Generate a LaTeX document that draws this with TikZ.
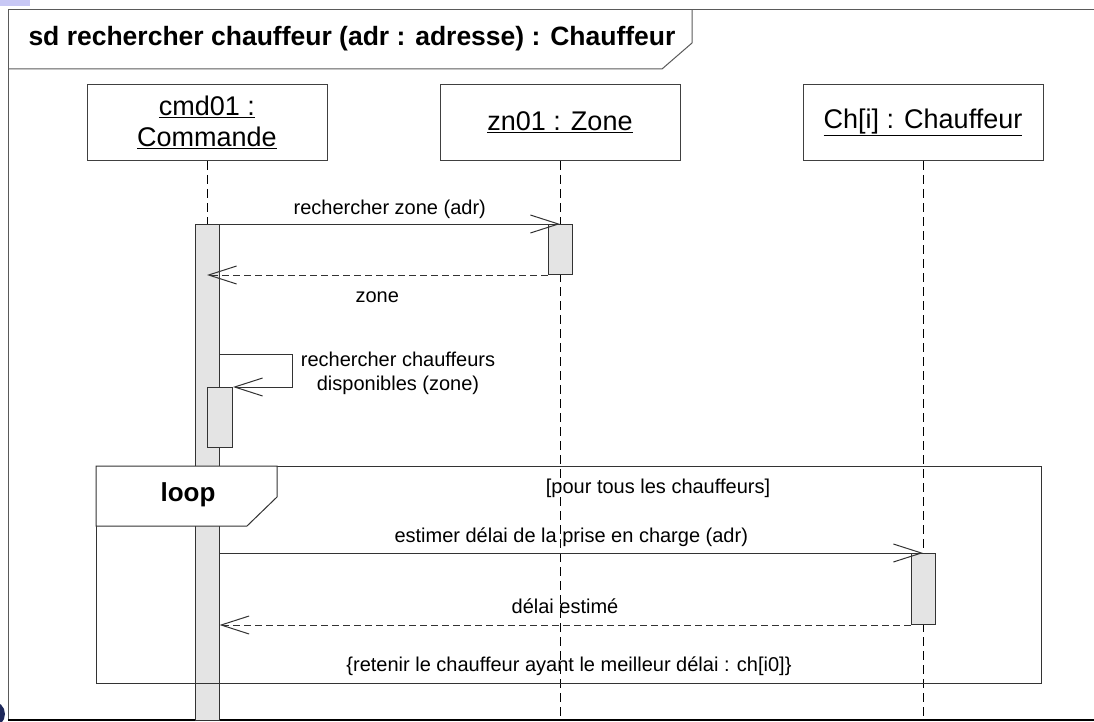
\documentclass[tikz,border=0pt]{standalone}
\usepackage{fontspec}
\setmainfont{Liberation Sans}
\usetikzlibrary{arrows.meta}
\usetikzlibrary{positioning}
\definecolor{barfill}{RGB}{228,228,228}
\definecolor{framegray}{RGB}{90,90,90}
\definecolor{navyblob}{RGB}{30,40,90}
\definecolor{lavender}{RGB}{200,200,245}

\begin{document}
\begin{tikzpicture}[x=1pt, y=-1pt, line width=1pt,
			every node/.style={inner sep=0pt},
			head/.style={draw=black!75, minimum width=240pt, minimum height=76pt, align=center, font=\fontsize{27}{31}\selectfont},
			lifeline/.style={draw=black, dash pattern=on 9pt off 5pt},
			bar/.style={draw=black!80, fill=barfill, minimum width=24pt, anchor=north},
			msg/.style={draw=black!80, -{Straight Barb[length=28pt, width=18pt]}},
			reply/.style={msg, dash pattern=on 7pt off 4pt},
			lbl/.style={font=\fontsize{20}{24}\selectfont, text height=14pt, text depth=4pt},
			frame/.style={draw=framegray}]
			\useasboundingbox (0,0) rectangle (1094,722);
			
			\fill[lavender] (0,0) rectangle (30,6);
			\fill[navyblob] (-8,714) circle[radius=13];
			
			% cadre sd
			\coordinate (sdnw) at (8,10);
			\coordinate (bottom) at (0,720);
			\draw[frame] (sdnw |- bottom) -- (sdnw) -- (1100,10);
			\draw[line width=2.5pt] (sdnw |- bottom) -- (1100,720);
			\node[font=\bfseries\fontsize{26.5}{30}\selectfont, anchor=west] (title) at (28,39) {sd rechercher chauffeur (adr : adresse) : Chauffeur};
			\draw[frame] (sdnw) ++(684,0) -- ++(0,33) -- ++(-30,26) -- (sdnw |- 0,69);
			
			\node[head] (cmd) at (207,122.5) {\underline{cmd01 :}\\\underline{Commande}};
			\node[head, right=112pt of cmd] (zn) {\underline{zn01 : Zone}};
			\node[head, right=122pt of zn] (ch) {\underline{Ch[i] : Chauffeur}};
			
			\foreach \n in {cmd,zn,ch}
				\draw[lifeline] (\n.south) -- (\n.south |- bottom);
			
			\node[bar, minimum height=496pt] (actcmd) at (cmd.south |- 0,224) {};
			\node[bar, minimum height=50pt] (actzn) at (zn.south |- 0,224) {};
			\node[bar, minimum height=60pt, minimum width=25pt, anchor=north west] (actself) at (cmd.south |- 0,387) {};
			\node[bar, minimum height=71pt] (actch) at (ch.south |- 0,553) {};
			
			\draw[msg] (actcmd.north east) -- (actzn.north) node[lbl, midway, above=5pt] {rechercher zone (adr)};
			\draw[reply] (actzn.south west) -- (actzn.south west -| actcmd) node[lbl, midway, below=13pt] {zone};
			
			\coordinate (selfout) at (actcmd.east |- 0,354);
			\draw[msg] (selfout) -- ++(73,0) |- (actself.north east);
			\node[font=\fontsize{20}{24}\selectfont, align=center] (selflbl) at (398,373) {rechercher chauffeurs\\disponibles (zone)};
			
			% loop
			\node[draw=black!80, minimum width=945pt, minimum height=217pt, anchor=north west] (loop) at (96,466) {};
			\draw[draw=black!80, fill=white] (loop.north west) -- ++(181,0) -- ++(0,31) -- ++(-30,29) -- ++(-151,0) -- cycle;
			\node[font=\bfseries\fontsize{26}{30}\selectfont] (looplbl) at (188,495) {loop};
			\node[lbl] (guard) at (658,488) {[pour tous les chauffeurs]};
			
			\draw[msg] (actcmd.east |- actch.north) -- (actch.north) node[lbl, midway, above=6pt] {estimer délai de la prise en charge (adr)};
			\draw[reply] (actch.south west) -- (actch.south west -| actcmd.east) node[lbl, midway, above=7pt] {délai estimé};
			\node[lbl] (retenir) at (569,666) {\{retenir le chauffeur ayant le meilleur délai : ch[i0]\}};
		\end{tikzpicture}
\end{document}
